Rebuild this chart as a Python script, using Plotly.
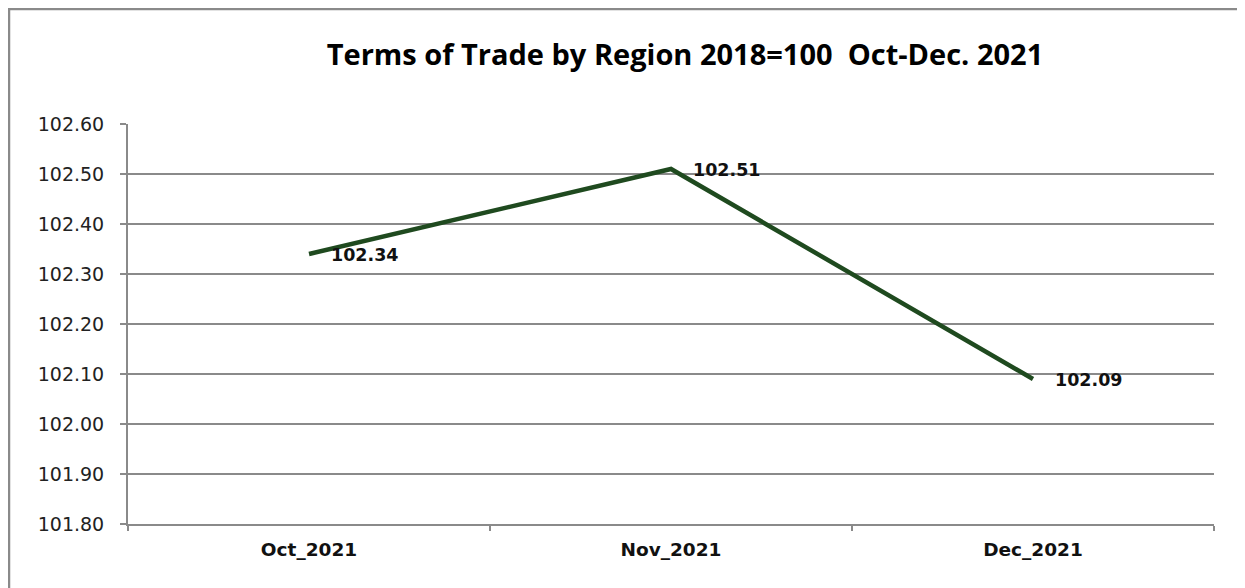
import plotly.graph_objects as go

months = ["Oct_2021", "Nov_2021", "Dec_2021"]
values = [102.34, 102.51, 102.09]
label_text = ["102.34", "102.51", "102.09"]
y_ticks = [101.80, 101.90, 102.00, 102.10, 102.20, 102.30, 102.40, 102.50, 102.60]

# page body adds an 8px offset
OFF = 8
W, H = 1245, 588
L, R, T, B = 128 - OFF, 39, 124 - OFF, 72
pw, ph = W - L - R, H - T - B

fig = go.Figure()
fig.add_trace(go.Scatter(
    x=months, y=values, mode="lines",
    line=dict(color="#1f4a1f", width=4.5),
    hoverinfo="x+y", showlegend=False,
))

for m, v, t in zip(months, values, label_text):
    fig.add_annotation(x=m, y=v, text="<b>%s</b>" % t, showarrow=False,
                       xanchor="left", yanchor="middle", xshift=20, yshift=-1,
                       font=dict(family="DejaVu Sans", size=17.5, color="#111111"))

fig.add_shape(type="rect", xref="paper", yref="paper",
              x0=(1 - L) / pw, x1=1.2, y0=-0.5, y1=1 + (T - 1) / ph,
              line=dict(color="#8a8a8a", width=2.5), fillcolor="rgba(0,0,0,0)",
              layer="below")

fig.update_layout(
    width=W, height=H,
    margin=dict(l=L, r=R, t=T, b=B),
    paper_bgcolor="white", plot_bgcolor="white",
    title=dict(text="<b>Terms of Trade by Region 2018=100  Oct-Dec. 2021</b>",
               x=(685 - OFF) / W, xanchor="center", y=1 - (55 - OFF) / H, yanchor="middle",
               font=dict(family="Open Sans", size=29, color="#000000")),
    xaxis=dict(
        type="category", tickson="boundaries", ticks="outside", ticklen=5,
        tickcolor="#8a8a8a", tickwidth=2,
        showline=True, linecolor="#8a8a8a", linewidth=2,
        showgrid=False, zeroline=False,
        tickfont=dict(family="DejaVu Sans", size=18.5, color="#111111"),
        tickprefix="<b>", ticksuffix="</b>",
        ticklabelstandoff=8,
        range=[-0.5, 2.5],
    ),
    yaxis=dict(
        range=[101.80, 102.60], tickvals=y_ticks,
        ticktext=["%.2f" % v for v in y_ticks],
        ticks="outside", ticklen=6, tickcolor="#8a8a8a", tickwidth=2,
        showline=True, linecolor="#8a8a8a", linewidth=2,
        showgrid=True, gridcolor="#8a8a8a", gridwidth=1.5,
        zeroline=False,
        ticklabelstandoff=12,
        tickfont=dict(family="DejaVu Sans", size=19, color="#222222"),
    ),
)

fig.write_html("out.html")
